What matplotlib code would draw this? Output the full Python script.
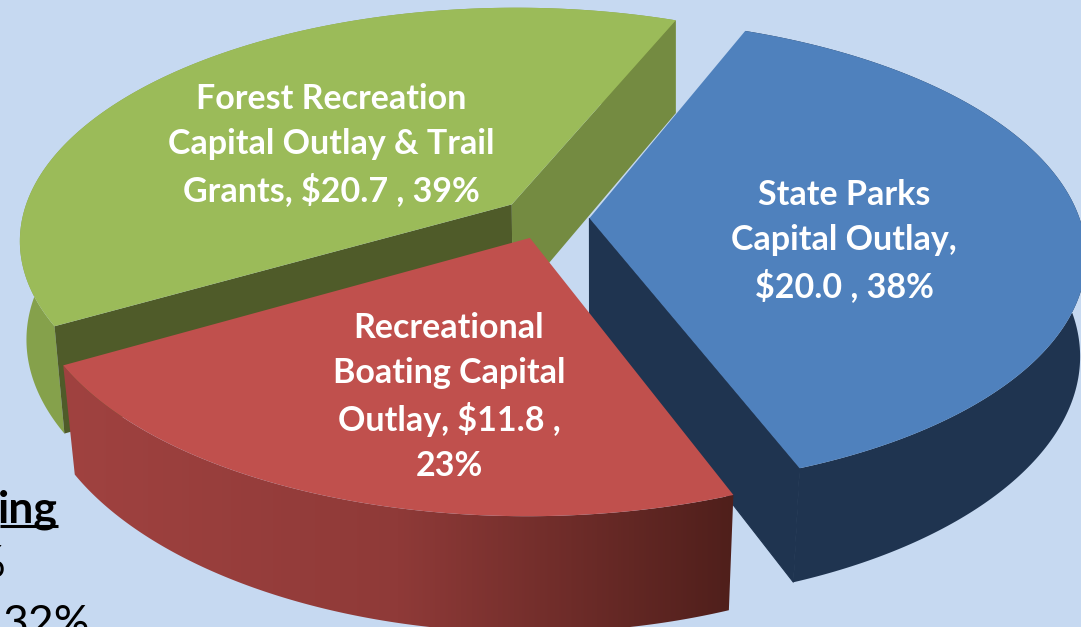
import numpy as np
import matplotlib
matplotlib.use("Agg")
import matplotlib.pyplot as plt
from matplotlib.colors import LinearSegmentedColormap
from matplotlib.patches import Polygon

# $ millions, clockwise from the start angle
slice_names = ["State Parks", "Recreational Boating", "Forest Recreation"]
slice_values = [20.0, 11.8, 20.7]
slice_labels = [
    "State Parks\nCapital Outlay,\n$20.0 , 38%",
    "Recreational\nBoating Capital\nOutlay, $11.8 ,\n23%",
    "Forest Recreation\nCapital Outlay & Trail\nGrants, $20.7 , 39%",
]
top_colors = ["#4f81bd", "#c0504d", "#9bbb59"]

BG = "#c6d9f1"
START = 22.0      # degrees clockwise from the back of the pie
EXPLODE = 0.0907
CX, CY = 545.0, 218.0
A, B, P = 490.0, 230.0, 0.15


def project(X, Y):
    # flat disc to screen, with the back of the pie further away
    w = 1 + P * Y
    return CX + A * X / w, CY - B * Y / w


def drop(x, y):
    # where the bottom edge of the pie sits under a point of the top face
    lean = 0.018 * (np.maximum(y, 0) / 325) ** 1.5
    return x - lean * (x - 600), y + 92 + 0.047 * y


def side(xs, ys):
    # outline of the wall hanging under a top edge
    bx, by = drop(xs, ys)
    return np.c_[np.r_[xs, bx[::-1]], np.r_[ys, by[::-1]]]


fig = plt.figure(figsize=(10.81, 6.27), dpi=100, facecolor=BG)
ax = fig.add_axes([0, 0, 1, 1])

angles = START + np.cumsum([0] + slice_values) / sum(slice_values) * 360
wedges = {}
for i, name in enumerate(slice_names):
    t = np.radians(np.linspace(angles[i], angles[i + 1], 200))
    mid = np.radians((angles[i] + angles[i + 1]) / 2)
    ox, oy = EXPLODE * np.sin(mid), EXPLODE * np.cos(mid)
    px, py = project(np.array([ox]), np.array([oy]))
    rx, ry = project(ox + np.sin(t), oy + np.cos(t))
    wedges[name] = (px[0], py[0], rx, ry)

red_shade = LinearSegmentedColormap.from_list("red_shade", ["#a04240", "#8f3a38", "#4f1f1b"])

# far slice first, the red one goes in front of the other two
for name in ["Forest Recreation", "State Parks", "Recreational Boating"]:
    i = slice_names.index(name)
    px, py, rx, ry = wedges[name]

    if name == "Forest Recreation":
        # outer wall, then the cut faces
        ax.add_patch(Polygon(side(rx, ry), fc="#85a14b", lw=0))
        ax.add_patch(Polygon(side(np.array([px, rx[0]]), np.array([py, ry[0]])), fc="#4f5b29", lw=0))
        ax.add_patch(Polygon(side(np.array([px, rx[-1]]), np.array([py, ry[-1]])), fc="#748b41", lw=0))
    elif name == "State Parks":
        ax.add_patch(Polygon(side(rx, ry), fc="#1f3450", lw=0))
        ax.add_patch(Polygon(side(np.array([px, rx[-1]]), np.array([py, ry[-1]])), fc="#1f3450", ec="#1f3450", lw=0.8))
    else:
        # shaded outer wall, getting darker to the right
        wall = Polygon(side(rx, ry), fc="none", lw=0)
        ax.add_patch(wall)
        grad = ax.imshow(np.linspace(0, 1, 256).reshape(1, -1), cmap=red_shade, aspect="auto",
                         extent=[rx.min(), rx.max(), 640, 300], zorder=1)
        grad.set_clip_path(wall)

    ax.fill(np.r_[px, rx], np.r_[py, ry], color=top_colors[i], lw=0)

ax.set_xlim(0, 1081)
ax.set_ylim(627, 0)
ax.axis("off")

font = "Lato"
ax.text(844, 241, slice_labels[0], color="white", fontsize=24.5, fontweight="bold", family=font,
        ha="center", va="center", linespacing=1.47)
ax.text(449, 397, slice_labels[1], color="white", fontsize=24.5, fontweight="bold", family=font,
        ha="center", va="center", linespacing=1.47)
ax.text(331, 145, slice_labels[2], color="white", fontsize=24.5, fontweight="bold", family=font,
        ha="center", va="center", linespacing=1.47)

# bits of the slide text that the crop cuts off
ax.text(58, 522, "ing", color="black", fontsize=32, fontweight="bold", family=font, ha="right", va="baseline")
ax.plot([0, 58], [526, 526], color="black", lw=2.2, solid_capstyle="butt")
ax.text(6, 577, "%", color="black", fontsize=32, family=font, ha="right", va="baseline")
ax.text(90, 637, "32%", color="black", fontsize=32, family=font, ha="right", va="baseline")

fig.savefig("out.png", dpi=100, facecolor=BG)
